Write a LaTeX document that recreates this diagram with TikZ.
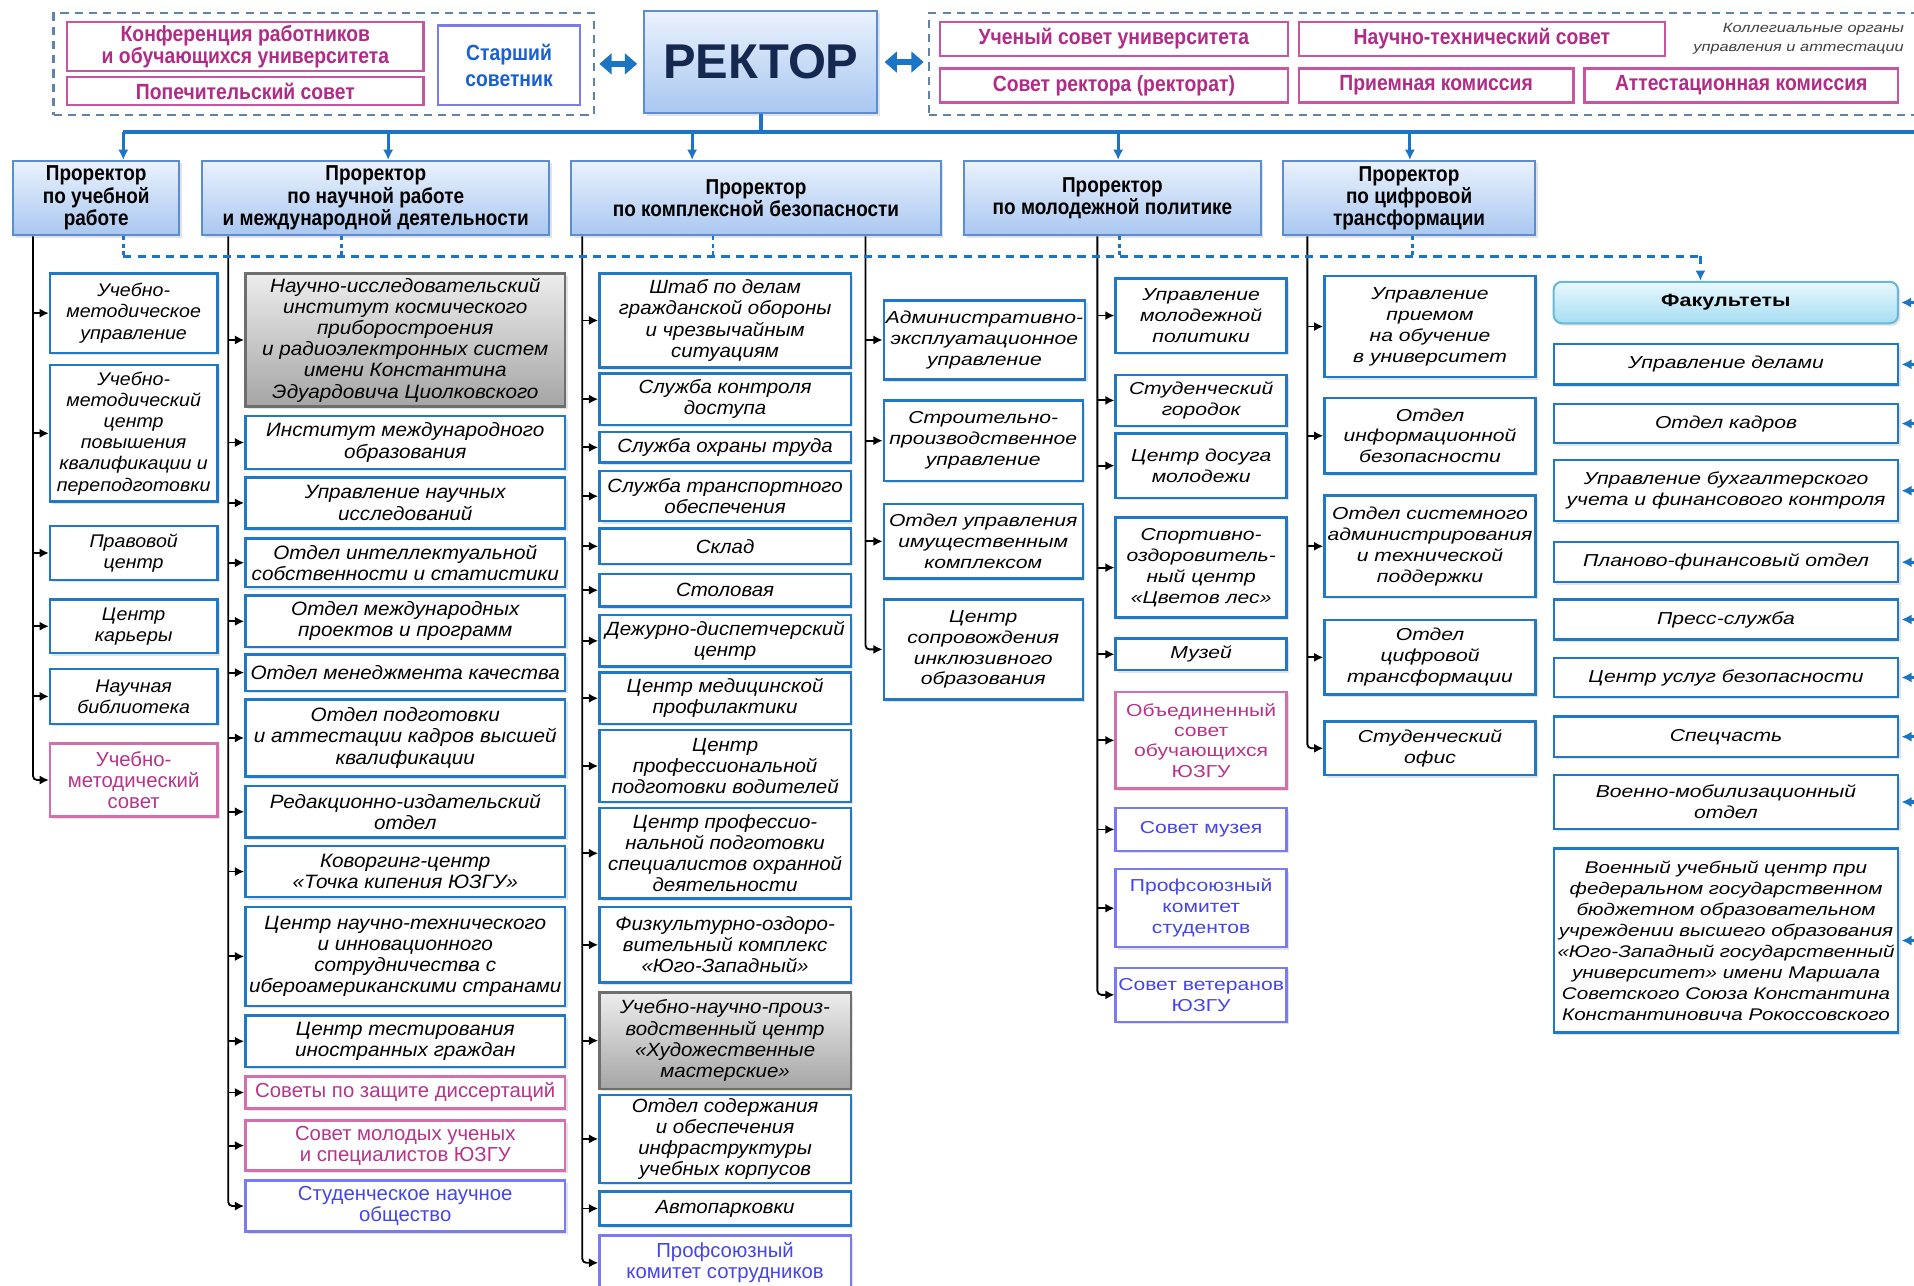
\documentclass[tikz,border=0pt]{standalone}
\usepackage{fontspec}
\setmainfont{Liberation Sans}
\newfontfamily\fR{Liberation Sans}
\newfontfamily\fA[FakeStretch=1.07]{Liberation Sans}
\newfontfamily\fW[FakeStretch=1.22]{Liberation Sans}
\newfontfamily\fC[FakeStretch=0.88]{Liberation Sans}
\usetikzlibrary{arrows.meta,shadows}
\definecolor{cblue}{HTML}{2079C7}
\definecolor{bblue}{HTML}{1B75C4}
\definecolor{pkB}{HTML}{D46FAE}
\definecolor{pkT}{HTML}{B8338A}
\definecolor{puB}{HTML}{7B7BF0}
\definecolor{puT}{HTML}{4545E8}
\definecolor{tpB}{HTML}{C8559F}
\definecolor{tpT}{HTML}{B02C86}
\definecolor{grpB}{HTML}{6083AA}
\definecolor{navy}{HTML}{142850}
\definecolor{prB}{HTML}{5B8ED0}
\definecolor{prT}{HTML}{EAF2FD}
\definecolor{prBot}{HTML}{A9C7F0}
\definecolor{grT}{HTML}{EDEDED}
\definecolor{grBot}{HTML}{A5A5A5}
\definecolor{grBd}{HTML}{6E6E6E}
\definecolor{faT}{HTML}{E9F8FD}
\definecolor{faBot}{HTML}{A6DDF2}
\definecolor{faB}{HTML}{6BB8D6}
\newcommand\mkbox[7]{\node[#6, anchor=north west, minimum width={(#4-#2)*0.6pt}, minimum height={(#5-#3)*0.6pt}] (#1) at (#2,#3) {#7};}
\tikzset{
  base/.style={align=center, inner sep=1pt, line width=1.2pt},
  sh/.style={drop shadow={shadow xshift=1.2pt, shadow yshift=-1.2pt, opacity=0.22}},
  cb/.style={base, sh, draw=cblue, fill=white},
  tA/.style={cb, font=\fA\itshape\fontsize{9}{10.4}\selectfont},
  tB/.style={cb, font=\fA\itshape\fontsize{9.5}{10.4}\selectfont},
  tC/.style={cb, font=\fA\itshape\fontsize{9.4}{10.4}\selectfont},
  tW/.style={cb, font=\fW\itshape\fontsize{8.5}{10.3}\selectfont},
  tWs/.style={cb, font=\fW\itshape\fontsize{8.3}{10.3}\selectfont},
  grB/.style={base, sh, draw=grBd, top color=grT, bottom color=grBot, font=\fA\itshape\fontsize{9.5}{10.4}\selectfont},
  grC/.style={grB, font=\fA\itshape\fontsize{9.4}{10.4}\selectfont},
  pk/.style={base, sh, draw=pkB, fill=white, text=pkT, font=\fR\fontsize{10}{10.4}\selectfont},
  pu/.style={base, sh, draw=puB, fill=white, text=puT, font=\fR\fontsize{10}{10.4}\selectfont},
  pkW/.style={pk, font=\fW\fontsize{8.5}{10}\selectfont},
  puW/.style={pu, font=\fW\fontsize{8.5}{10.3}\selectfont},
  tp/.style={base, draw=tpB, fill=white, text=tpT, font=\fC\bfseries\fontsize{10.8}{10.8}\selectfont},
  sov/.style={base, draw=puB, fill=white, text=cblue!80!blue, font=\fC\bfseries\fontsize{10.8}{12.5}\selectfont},
  grp/.style={draw=grpB, line width=1pt, dash pattern=on 4pt off 3pt},
  pr/.style={base, sh, draw=prB, line width=1pt, top color=prT, bottom color=prBot, font=\fC\bfseries\fontsize{10.6}{9.8}\selectfont},
  rk/.style={base, sh, draw=prB, line width=1pt, top color=prT, bottom color=prBot, text=navy, font=\fR\bfseries\fontsize{24}{24}\selectfont},
  fac/.style={base, sh, draw=faB, line width=1pt, rounded corners=4pt, top color=faT, bottom color=faBot, font=\fW\bfseries\fontsize{8.7}{10}\selectfont},
  bus/.style={draw=bblue, line width=1.8pt},
  barr/.style={draw=bblue, line width=1.5pt, -{Latex[length=5pt,width=5pt]}},
  karr/.style={draw=black, line width=0.9pt, -{Latex[length=4.5pt,width=4.5pt]}},
  dsh/.style={draw=bblue, line width=1.3pt, dash pattern=on 4pt off 3pt},
  dstub/.style={draw=bblue, line width=1.3pt, dash pattern=on 2pt off 1.5pt},
  dbl/.style={draw=bblue, line width=3.2pt, {Triangle[length=6pt,width=10pt]}-{Triangle[length=6pt,width=10pt]}}
}
\newcommand\karrow[2]{\draw[karr] (#1.west -| #2) -- (#1.west);}
\begin{document}
\begin{tikzpicture}[x=0.6pt,y=-0.6pt]
\fill[white] (0,0) rectangle (1568,1053);
\useasboundingbox (0,0) rectangle (1568,1053);

% ---------- top ----------
\mkbox{lgrp}{43}{10}{486}{93}{grp}{}
\mkbox{rgrp}{760}{10}{1585}{93}{grp}{}
\mkbox{konf}{54}{17}{346}{57}{tp}{Конференция работников\\и обучающихся университета}
\mkbox{pops}{54}{62}{346}{85}{tp}{Попечительский совет}
\mkbox{ssov}{358}{20}{474}{85}{sov}{Старший\\советник}
\mkbox{rector}{527}{8}{718}{92}{rk}{РЕКТОР}
\mkbox{usov}{769}{17}{1054}{45}{tp}{Ученый совет университета}
\mkbox{ntsov}{1063}{17}{1363}{45}{tp}{Научно-технический совет}
\mkbox{srek}{769}{55}{1054}{83}{tp}{Совет ректора (ректорат)}
\mkbox{prkom}{1063}{55}{1288}{83}{tp}{Приемная комиссия}
\mkbox{atkom}{1297}{55}{1554}{83}{tp}{Аттестационная комиссия}
\node[anchor=north east, align=right, inner sep=0pt, text=black!75, font=\fW\itshape\fontsize{6.6}{9}\selectfont] (kol) at (1560,19) {Коллегиальные органы\\управления и аттестации};
\draw[dbl] ([xshift=2pt]lgrp.east) -- ([xshift=-3pt]lgrp.east -| rector.west);
\draw[dbl] ([xshift=3pt]rector.east) -- ([xshift=-2pt]rector.east -| rgrp.west);

% ---------- prorectors ----------
\mkbox{p1}{10}{131}{146}{192}{pr}{Проректор\\по учебной\\работе}
\mkbox{p2}{165}{131}{449}{192}{pr}{Проректор\\по научной работе\\и международной деятельности}
\mkbox{p3}{467}{131}{770}{192}{pr}{Проректор\\по комплексной безопасности}
\mkbox{p4}{789}{131}{1032}{192}{pr}{Проректор\\по молодежной политике}
\mkbox{p5}{1050}{131}{1257}{192}{pr}{Проректор\\по цифровой\\трансформации}

\coordinate (busL) at (101,108);
\coordinate (busR) at (1575,108);
\draw[bus] (rector.south) -- (rector.south |- busL);
\draw[bus] (busL) -- (busR);
\coordinate (bb1) at (101,108);
\coordinate (bb2) at (318,108);
\coordinate (bb3) at (567,108);
\coordinate (bb4) at (916,108);
\coordinate (bb5) at (1155,108);
\draw[barr] (bb1) -- (bb1 |- p1.north);
\draw[barr] (bb2) -- (bb2 |- p2.north);
\draw[barr] (bb3) -- (bb3 |- p3.north);
\draw[barr] (bb4) -- (bb4 |- p4.north);
\draw[barr] (bb5) -- (bb5 |- p5.north);

% ---------- column 1 ----------
\mkbox{a1}{40}{223}{177}{288}{tA}{Учебно-\\методическое\\управление}
\mkbox{a2}{40}{298}{177}{410}{tA}{Учебно-\\методический\\центр\\повышения\\квалификации и\\переподготовки}
\mkbox{a3}{40}{430}{177}{474}{tA}{Правовой\\центр}
\mkbox{a4}{40}{490}{177}{534}{tA}{Центр\\карьеры}
\mkbox{a5}{40}{547}{177}{592}{tA}{Научная\\библиотека}
\mkbox{a6}{40}{608}{177}{668}{pk}{Учебно-\\методический\\совет}

% ---------- column 2 ----------
\mkbox{b1}{200}{223}{462}{332}{grB}{Научно-исследовательский\\институт космического\\приборостроения\\и радиоэлектронных систем\\имени Константина\\Эдуардовича Циолковского}
\mkbox{b2}{200}{340}{462}{383}{tB}{Институт международного\\образования}
\mkbox{b3}{200}{390}{462}{432}{tB}{Управление научных\\исследований}
\mkbox{b4}{200}{440}{462}{480}{tB}{Отдел интеллектуальной\\собственности и статистики}
\mkbox{b5}{200}{487}{462}{529}{tB}{Отдел международных\\проектов и программ}
\mkbox{b6}{200}{535}{462}{565}{tB}{Отдел менеджмента качества}
\mkbox{b7}{200}{572}{462}{635}{tB}{Отдел подготовки\\и аттестации кадров высшей\\квалификации}
\mkbox{b8}{200}{643}{462}{685}{tB}{Редакционно-издательский\\отдел}
\mkbox{b9}{200}{692}{462}{734}{tB}{Коворгинг-центр\\«Точка кипения ЮЗГУ»}
\mkbox{b10}{200}{742}{462}{823}{tB}{Центр научно-технического\\и инновационного\\сотрудничества с\\ибероамериканскими странами}
\mkbox{b11}{200}{831}{462}{873}{tB}{Центр тестирования\\иностранных граждан}
\mkbox{b12}{200}{881}{462}{907}{pk}{Советы по защите диссертаций}
\mkbox{b13}{200}{917}{462}{958}{pk}{Совет молодых ученых\\и специалистов ЮЗГУ}
\mkbox{b14}{200}{966}{462}{1008}{pu}{Студенческое научное\\общество}

% ---------- column 3a ----------
\mkbox{s1}{490}{223}{696}{300}{tC}{Штаб по делам\\гражданской обороны\\и чрезвычайным\\ситуациям}
\mkbox{s2}{490}{305}{696}{347}{tC}{Служба контроля\\доступа}
\mkbox{s3}{490}{353}{696}{378}{tC}{Служба охраны труда}
\mkbox{s4}{490}{385}{696}{426}{tC}{Служба транспортного\\обеспечения}
\mkbox{s5}{490}{432}{696}{461}{tC}{Склад}
\mkbox{s6}{490}{469}{696}{496}{tC}{Столовая}
\mkbox{s7}{490}{503}{696}{545}{tC}{Дежурно-диспетчерский\\центр}
\mkbox{s8}{490}{550}{696}{592}{tC}{Центр медицинской\\профилактики}
\mkbox{s9}{490}{597}{696}{656}{tC}{Центр\\профессиональной\\подготовки водителей}
\mkbox{s10}{490}{661}{696}{735}{tC}{Центр профессио-\\нальной подготовки\\специалистов охранной\\деятельности}
\mkbox{s11}{490}{742}{696}{804}{tC}{Физкультурно-оздоро-\\вительный комплекс\\«Юго-Западный»}
\mkbox{s12}{490}{812}{696}{891}{grC}{Учебно-научно-произ-\\водственный центр\\«Художественные\\мастерские»}
\mkbox{s13}{490}{896}{696}{968}{tC}{Отдел содержания\\и обеспечения\\инфраструктуры\\учебных корпусов}
\mkbox{s14}{490}{975}{696}{1003}{tC}{Автопарковки}
\mkbox{s15}{490}{1011}{696}{1056}{pu}{Профсоюзный\\комитет сотрудников}

% ---------- column 3b ----------
\mkbox{e1}{723}{245}{886}{310}{tW}{Административно-\\эксплуатационное\\управление}
\mkbox{e2}{723}{327}{886}{393}{tW}{Строительно-\\производственное\\управление}
\mkbox{e3}{723}{412}{886}{473}{tW}{Отдел управления\\имущественным\\комплексом}
\mkbox{e4}{723}{490}{886}{572}{tW}{Центр\\сопровождения\\инклюзивного\\образования}

% ---------- column 4 ----------
\mkbox{m1}{913}{227}{1053}{288}{tW}{Управление\\молодежной\\политики}
\mkbox{m2}{913}{306}{1053}{348}{tW}{Студенческий\\городок}
\mkbox{m3}{913}{354}{1053}{407}{tW}{Центр досуга\\молодежи}
\mkbox{m4}{913}{423}{1053}{505}{tW}{Спортивно-\\оздоровитель-\\ный центр\\«Цветов лес»}
\mkbox{m5}{913}{522}{1053}{548}{tW}{Музей}
\mkbox{m6}{913}{566}{1053}{645}{pkW}{Объединенный\\совет\\обучающихся\\ЮЗГУ}
\mkbox{m7}{913}{661}{1053}{696}{puW}{Совет музея}
\mkbox{m8}{913}{711}{1053}{775}{puW}{Профсоюзный\\комитет\\студентов}
\mkbox{m9}{913}{792}{1053}{836}{puW}{Совет ветеранов\\ЮЗГУ}

% ---------- column 5 ----------
\mkbox{d1}{1084}{225}{1257}{308}{tW}{Управление\\приемом\\на обучение\\в университет}
\mkbox{d2}{1084}{325}{1257}{387}{tW}{Отдел\\информационной\\безопасности}
\mkbox{d3}{1084}{405}{1257}{488}{tW}{Отдел системного\\администрирования\\и технической\\поддержки}
\mkbox{d4}{1084}{507}{1257}{568}{tW}{Отдел\\цифровой\\трансформации}
\mkbox{d5}{1084}{590}{1257}{634}{tW}{Студенческий\\офис}

% ---------- column 6 ----------
\mkbox{f0}{1272}{230}{1554}{264}{fac}{Факультеты}
\mkbox{f1}{1272}{281}{1554}{314}{tW}{Управление делами}
\mkbox{f2}{1272}{330}{1554}{362}{tW}{Отдел кадров}
\mkbox{f3}{1272}{376}{1554}{426}{tW}{Управление бухгалтерского\\учета и финансового контроля}
\mkbox{f4}{1272}{443}{1554}{476}{tW}{Планово-финансовый отдел}
\mkbox{f5}{1272}{490}{1554}{523}{tW}{Пресс-служба}
\mkbox{f6}{1272}{538}{1554}{570}{tW}{Центр услуг безопасности}
\mkbox{f7}{1272}{586}{1554}{619}{tW}{Спецчасть}
\mkbox{f8}{1272}{634}{1554}{678}{tW}{Военно-мобилизационный\\отдел}
\mkbox{f9}{1272}{694}{1554}{845}{tWs}{Военный учебный центр при\\федеральном государственном\\бюджетном образовательном\\учреждении высшего образования\\«Юго-Западный государственный\\университет» имени Маршала\\Советского Союза Константина\\Константиновича Рокоссовского}

% ---------- black buses ----------
\coordinate (k1) at (27,0);
\coordinate (k2) at (187,0);
\coordinate (k3) at (477,0);
\coordinate (k4) at (709,0);
\coordinate (k5) at (899,0);
\coordinate (k6) at (1071,0);
\draw[karr, rounded corners=2pt] (k1 |- p1.south) -- (k1 |- a6.west) -- (a6.west);
\foreach \n in {a1,a2,a3,a4,a5} {\karrow{\n}{k1}}
\draw[karr, rounded corners=2pt] (k2 |- p2.south) -- (k2 |- b14.west) -- (b14.west);
\foreach \n in {b1,b2,b3,b4,b5,b6,b7,b8,b9,b10,b11,b12,b13} {\karrow{\n}{k2}}
\draw[karr, rounded corners=2pt] (k3 |- p3.south) -- (k3 |- s15.west) -- (s15.west);
\foreach \n in {s1,s2,s3,s4,s5,s6,s7,s8,s9,s10,s11,s12,s13,s14} {\karrow{\n}{k3}}
\draw[karr, rounded corners=2pt] (k4 |- p3.south) -- (k4 |- e4.west) -- (e4.west);
\foreach \n in {e1,e2,e3} {\karrow{\n}{k4}}
\draw[karr, rounded corners=2pt] (k5 |- p4.south) -- (k5 |- m9.west) -- (m9.west);
\foreach \n in {m1,m2,m3,m4,m5,m6,m7,m8} {\karrow{\n}{k5}}
\draw[karr, rounded corners=2pt] (k6 |- p5.south) -- (k6 |- d5.west) -- (d5.west);
\foreach \n in {d1,d2,d3,d4} {\karrow{\n}{k6}}

% ---------- dashed links to faculties ----------
\coordinate (dd1) at (101,210);
\coordinate (dd2) at (280,210);
\coordinate (dd3) at (584,210);
\coordinate (dd4) at (917,210);
\coordinate (dd5) at (1157,210);
\coordinate (dd6) at (1393,210);
\draw[dstub] (dd1 |- p1.south) -- (dd1);
\draw[dstub] (dd2 |- p2.south) -- (dd2);
\draw[dstub] (dd3 |- p3.south) -- (dd3);
\draw[dstub] (dd4 |- p4.south) -- (dd4);
\draw[dstub] (dd5 |- p5.south) -- (dd5);
\draw[dsh] (dd1) -- (dd6);
\draw[dsh, -{Latex[length=5pt,width=5pt]}] (dd6) -- (dd6 |- f0.north);

% ---------- right-side arrows ----------
\coordinate (re) at (1568,0);
\foreach \n in {f0,f1,f2,f3,f4,f5,f6,f7,f8,f9} {\draw[barr] (\n.east -| re) -- ([xshift=1pt]\n.east);}
\end{tikzpicture}
\end{document}
